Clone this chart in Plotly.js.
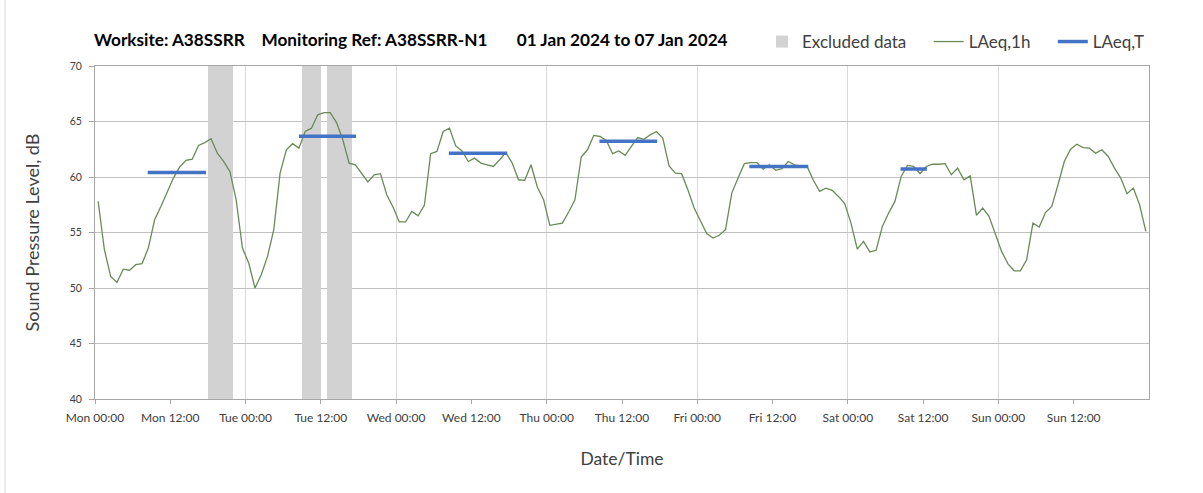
<!DOCTYPE html>
<html>
<head>
<meta charset="utf-8">
<script src="https://cdn.plot.ly/plotly-3.0.1.min.js"></script>
<style>
  html, body { margin: 0; padding: 0; background: #ffffff; }
  #chart { width: 1203px; height: 493px; }
</style>
</head>
<body>
<div id="chart"></div>
<script>
// ---- Data ----
// Hourly LAeq,1h values, Mon 00:00 to Sun 23:00 (one value per hour)
const laeq1h = [
  57.8, 53.45, 51.05, 50.5, 51.7, 51.6, 52.1, 52.2, 53.6, 56.15, 57.35, 58.6,
  59.9, 60.9, 61.5, 61.6, 62.85, 63.1, 63.45, 62.15, 61.4, 60.5, 57.95, 53.6,
  52.25, 50.0, 51.2, 52.85, 55.25, 60.35, 62.45, 63.0, 62.6, 64.1, 64.4, 65.6,
  65.8, 65.8, 64.9, 63.35, 61.25, 61.1, 60.35, 59.55, 60.2, 60.3, 58.4, 57.3,
  55.95, 55.95, 56.9, 56.5, 57.45, 62.1, 62.3, 64.1, 64.4, 62.8, 62.35, 61.4,
  61.7, 61.25, 61.1, 60.95, 61.55, 62.2, 61.25, 59.75, 59.7, 61.1, 59.1, 57.95,
  55.65, 55.75, 55.85, 56.85, 57.95, 61.8, 62.45, 63.75, 63.65, 63.3, 62.1, 62.35,
  61.95, 62.75, 63.55, 63.4, 63.8, 64.1, 63.5, 61.0, 60.35, 60.3, 58.85, 57.2,
  56.0, 54.9, 54.5, 54.75, 55.25, 58.55, 59.9, 61.2, 61.3, 61.3, 60.7, 61.1,
  60.6, 60.75, 61.4, 61.1, 61.0, 60.95, 59.7, 58.7, 59.0, 58.8, 58.25, 57.6,
  55.85, 53.5, 54.2, 53.25, 53.4, 55.55, 56.75, 57.8, 60.05, 61.05, 60.95, 60.3,
  60.95, 61.15, 61.15, 61.2, 60.2, 60.8, 59.75, 60.1, 56.55, 57.2, 56.45, 54.95,
  53.3, 52.2, 51.55, 51.55, 52.55, 55.85, 55.5, 56.8, 57.35, 59.3, 61.4, 62.5,
  62.95, 62.65, 62.6, 62.15, 62.45, 61.85, 60.8, 59.9, 58.5, 59.0, 57.5, 55.1
];

// LAeq,T periods (hours from Mon 00:00) and levels
const periodStart = [8.4, 32.5, 56.4, 80.4, 104.3, 128.4];
const periodEnd   = [17.7, 41.6, 65.7, 89.6, 113.7, 132.6];
const periodLAeqT = [60.41, 63.66, 62.13, 63.21, 60.95, 60.72];

// Excluded data periods (hours from Mon 00:00)
const excludedStart = [18, 33, 37];
const excludedEnd   = [22, 36, 41];

// Tick labels (every 12 hours)
const dayNames = ['Mon', 'Tue', 'Wed', 'Thu', 'Fri', 'Sat', 'Sun'];
const clockLabels = ['00:00', '12:00'];

// ---- Build traces ----
const hours = laeq1h.map((_, i) => i + 0.5);

const tickVals = [], tickText = [];
dayNames.forEach((d, di) => {
  clockLabels.forEach((c, ci) => {
    tickVals.push(di * 24 + ci * 12);
    tickText.push(d + ' ' + c);
  });
});
const dayBoundaries = dayNames.slice(1).map((_, i) => (i + 1) * 24);

const exclX = excludedStart.map((s, i) => (s + excludedEnd[i]) / 2);
const exclW = excludedStart.map((s, i) => excludedEnd[i] - s);

const tX = [], tY = [];
periodStart.forEach((s, i) => {
  tX.push(s, periodEnd[i], null);
  tY.push(periodLAeqT[i], periodLAeqT[i], null);
});

const FONT = 'Lato, "Open Sans", sans-serif';
const PAD = '\u00a0\u00a0\u00a0\u00a0';

const traces = [
  {
    type: 'bar',
    name: 'Excluded data' + PAD,
    x: exclX,
    y: excludedStart.map(() => 30),
    base: 40,
    width: exclW,
    marker: { color: '#d2d2d2', line: { width: 0 } },
    hoverinfo: 'skip'
  },
  {
    type: 'scatter',
    mode: 'lines',
    name: 'LAeq,1h' + PAD,
    x: hours,
    y: laeq1h,
    line: { color: '#6a8a58', width: 1.3 }
  },
  {
    type: 'scatter',
    mode: 'lines',
    name: 'LAeq,T',
    x: tX,
    y: tY,
    connectgaps: false,
    line: { color: '#4472C4', width: 3.5 }
  }
];

const layout = {
  width: 1203,
  height: 493,
  paper_bgcolor: '#ffffff',
  plot_bgcolor: '#ffffff',
  margin: { l: 95, r: 54, t: 66, b: 94 },
  font: { family: FONT, color: '#404040' },
  title: {
    text: 'Worksite: A38SSRR\u00a0\u00a0\u00a0\u00a0Monitoring Ref: A38SSRR-N1\u00a0\u00a0\u00a0\u00a0\u00a0\u00a0\u00a001 Jan 2024 to 07 Jan 2024',
    font: { family: FONT, size: 17.2, color: '#000000', weight: 'bold' },
    xref: 'container', x: 94 / 1203, xanchor: 'left',
    yref: 'container', y: 1 - 40 / 493, yanchor: 'middle'
  },
  showlegend: true,
  legend: {
    orientation: 'h',
    x: 762 / 1203, xref: 'container', xanchor: 'left',
    y: 1 - 42 / 493, yref: 'container', yanchor: 'middle',
    font: { family: FONT, size: 17, color: '#404040' },
    itemwidth: 30,
    bgcolor: 'rgba(0,0,0,0)',
    traceorder: 'normal'
  },
  bargap: 0,
  xaxis: {
    range: [0, 168],
    tickmode: 'array',
    tickvals: tickVals,
    ticktext: tickText,
    ticks: 'outside',
    ticklen: 4,
    tickcolor: '#a6a6a6',
    ticklabelstandoff: 4,
    tickfont: { family: FONT, size: 12, color: '#404040' },
    showgrid: false,
    minor: {
      tickmode: 'array',
      tickvals: dayBoundaries,
      showgrid: true,
      gridcolor: '#d9d9d9',
      gridwidth: 1,
      ticks: ''
    },
    showline: true,
    linecolor: '#a6a6a6',
    linewidth: 1,
    mirror: true,
    zeroline: false,
    title: {
      text: 'Date/Time',
      font: { family: FONT, size: 17.5, color: '#404040' },
      standoff: 28
    }
  },
  yaxis: {
    range: [40, 70],
    tickmode: 'linear',
    tick0: 40,
    dtick: 5,
    ticks: 'outside',
    ticklen: 5,
    tickcolor: '#a6a6a6',
    ticklabelstandoff: 5,
    tickfont: { family: FONT, size: 10.5, color: '#404040' },
    showgrid: true,
    gridcolor: '#c0c0c0',
    gridwidth: 1,
    showline: true,
    linecolor: '#a6a6a6',
    linewidth: 1,
    mirror: true,
    zeroline: false,
    title: {
      text: 'Sound Pressure Level, dB',
      font: { family: FONT, size: 18, color: '#404040' },
      standoff: 25
    }
  },
  shapes: [
    {
      type: 'line', xref: 'paper', yref: 'paper',
      x0: (5 - 95) / 1054, x1: (5 - 95) / 1054,
      y0: -94 / 333, y1: 1 + 66 / 333,
      line: { color: '#d9d9d9', width: 1 },
      layer: 'below'
    }
  ]
};

Plotly.newPlot('chart', traces, layout, { displayModeBar: false, staticPlot: true });
</script>
</body>
</html>
